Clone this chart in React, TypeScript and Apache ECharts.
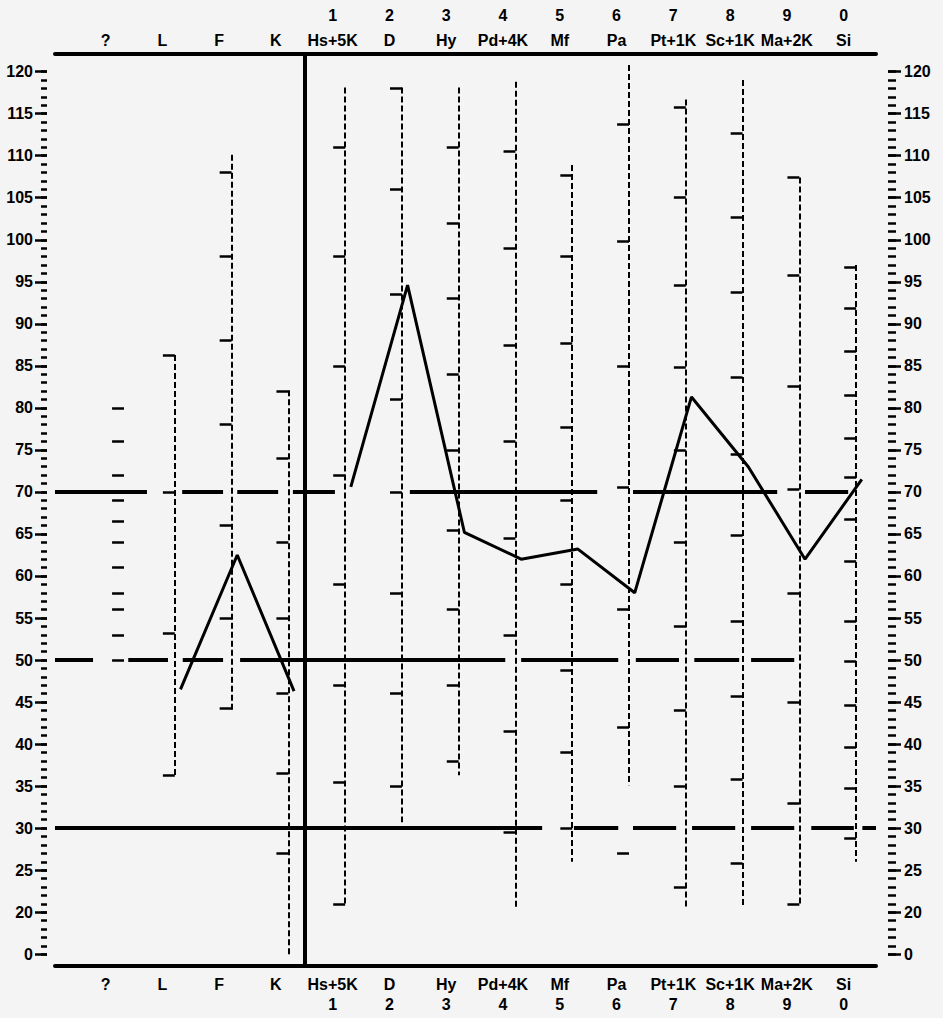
import React, { useEffect, useRef } from "react";
import * as echarts from "echarts";

// ---- categories (MMPI scales) ----
const scaleNames = ["?", "L", "F", "K", "Hs+5K", "D", "Hy", "Pd+4K", "Mf", "Pa", "Pt+1K", "Sc+1K", "Ma+2K", "Si"];
const scaleNumbers = ["", "", "", "", "1", "2", "3", "4", "5", "6", "7", "8", "9", "0"];

// ---- profile T-scores ----
const validityIdx = [1, 2, 3];
const validityProfile = [46.5, 62.5, 46.3];
const clinicalIdx = [4, 5, 6, 7, 8, 9, 10, 11, 12, 13];
const clinicalProfile = [70.6, 94.6, 65.2, 62.0, 63.2, 58.0, 81.3, 73.0, 62.0, 71.5];

// ---- raw-score scale columns (T positions) ----
const scaleTops: (number | null)[] = [null, 86.3, 110.1, 82.1, 118.1, 118.1, 118.1, 118.8, 108.9, 120.8, 116.7, 119.0, 107.4, 97.0];
const scaleBottoms: (number | null)[] = [null, 36.3, 44.0, 15.0, 20.8, 30.7, 36.3, 20.5, 26.0, 35.1, 20.5, 20.5, 21.0, 26.0];
const scaleTicks: number[][] = [
  [80, 76, 72, 69, 66.5, 64, 61, 58, 56, 53, 50],
  [86.3, 70, 53.2, 36.3],
  [108, 98, 88, 78, 66, 55, 44.3],
  [82, 74, 64, 55, 46, 36.5, 27],
  [111, 98, 85, 72, 59, 47, 35.5, 21],
  [118, 106, 93.5, 81, 70, 58, 46, 35],
  [111, 102, 93, 84, 75, 65.5, 56, 47, 38],
  [110.5, 99, 87.5, 76, 64.5, 53, 41.5, 29.5],
  [107.7, 98, 87.7, 77.7, 69, 59, 48.8, 39, 30],
  [113.7, 99.8, 85, 70.5, 56, 42, 27],
  [115.8, 105, 94.6, 84.8, 75, 64, 54, 44, 35, 23],
  [112.7, 102.7, 93.7, 83.7, 74.5, 64.9, 54.6, 45.7, 35.8, 25.8],
  [107.4, 95.8, 82.6, 70.3, 58, 45, 33, 21],
  [96.7, 91.9, 86.7, 81.5, 76.4, 71.8, 66.7, 61.8, 54.6, 49.8, 44.6, 39.6, 34.8, 28.8],
];

// ---- T reference levels and their drawn stretches (in scale-index units) ----
const tLevels = [70, 50, 30];
const tLevelSegments: number[][][] = [
  [[-1.11, 0.51], [1.13, 1.85], [2.1, 2.82], [3.08, 3.82], [5.14, 8.44], [9.07, 11.61], [12.1, 12.86]],
  [[-1.11, -0.44], [0.18, 0.88], [1.14, 1.85], [2.15, 6.82], [7.1, 8.81], [9.12, 9.88], [10.15, 10.94], [11.15, 11.91]],
  [[-1.11, 7.47], [8.03, 8.81], [9.07, 9.83], [10.11, 10.87], [11.15, 11.91], [12.21, 12.96], [13.11, 13.35]],
];

// ---- y axis ticks ----
const yTickValues = [15, 20, 25, 30, 35, 40, 45, 50, 55, 60, 65, 70, 75, 80, 85, 90, 95, 100, 105, 110, 115, 120];
const yTickLabels = ["0", "20", "25", "30", "35", "40", "45", "50", "55", "60", "65", "70", "75", "80", "85", "90", "95", "100", "105", "110", "115", "120"];
const yMinorValues: number[] = [];
for (let v = 15; v <= 120; v++) yMinorValues.push(v);

// layout constants
const X_MIN = -1.11;
const X_MAX = 13.35;
const Y_MIN = 13.6;
const Y_MAX = 122.1;
const LABEL_SHIFT = -0.22;
const PROFILE_SHIFT = 0.1;
const TICK_LEN = 0.21;
const DIVIDER_X = 3.28;

const FONT = "'Liberation Sans', Arial, Helvetica, sans-serif";

export default function App() {
  const ref = useRef<HTMLDivElement>(null);

  useEffect(() => {
    if (!ref.current) return;
    const chart = echarts.init(ref.current, undefined, { renderer: "svg" });

    const labelPositions = scaleNames.map((_, i) => i + LABEL_SHIFT);
    const idxOf = (v: number) => Math.round(v - LABEL_SHIFT);

    const scaleLineData: any[] = [];
    const tickData: any[] = [];
    scaleNames.forEach((_, i) => {
      const t = scaleTops[i];
      const b = scaleBottoms[i];
      if (t != null && b != null) scaleLineData.push({ coords: [[i, t], [i, b]] });
      scaleTicks[i].forEach((v) => {
        if (i === 0) tickData.push({ coords: [[i - TICK_LEN / 2, v], [i + TICK_LEN / 2, v]] });
        else tickData.push({ coords: [[i - TICK_LEN, v], [i, v]] });
      });
    });

    const levelData: any[] = [];
    tLevels.forEach((lv, k) => {
      tLevelSegments[k].forEach(([a, b]) => levelData.push({ coords: [[a, lv], [b, lv]] }));
    });

    const yLabelFmt = (v: number) => {
      const k = yTickValues.findIndex((t) => Math.abs(t - v) < 1e-6);
      return k >= 0 ? yTickLabels[k] : "";
    };

    const xAxisCommon = {
      type: "value",
      min: X_MIN,
      max: X_MAX,
      axisLine: { show: true, onZero: false, lineStyle: { color: "#000", width: 4 } },
      axisTick: { show: false },
      splitLine: { show: false },
    };
    const yAxisCommon = {
      type: "value",
      min: Y_MIN,
      max: Y_MAX,
      axisLine: { show: false, onZero: false },
      splitLine: { show: false },
    };
    const labelStyle = { color: "#000", fontFamily: FONT, fontWeight: "bold", fontSize: 16 };

    chart.setOption({
      animation: false,
      backgroundColor: "#f4f4f4",
      grid: { left: 55, right: 67, top: 54, bottom: 52, containLabel: false },
      xAxis: [
        {
          ...xAxisCommon,
          position: "top",
          axisLabel: {
            ...labelStyle,
            customValues: labelPositions,
            lineHeight: 25,
            margin: 1,
            formatter: (v: number) => {
              const i = idxOf(v);
              return scaleNumbers[i] ? scaleNumbers[i] + "\n" + scaleNames[i] : scaleNames[i];
            },
          },
        },
        {
          ...xAxisCommon,
          position: "bottom",
          axisLabel: {
            ...labelStyle,
            customValues: labelPositions,
            lineHeight: 20,
            margin: 8,
            formatter: (v: number) => {
              const i = idxOf(v);
              return scaleNumbers[i] ? scaleNames[i] + "\n" + scaleNumbers[i] : scaleNames[i];
            },
          },
        },
      ],
      yAxis: [
        {
          ...yAxisCommon,
          position: "left",
          offset: 8,
          axisTick: { show: true, customValues: yTickValues, length: 12, lineStyle: { color: "#000", width: 2.5 } },
          axisLabel: { ...labelStyle, customValues: yTickValues, margin: 14, formatter: yLabelFmt },
        },
        {
          ...yAxisCommon,
          position: "left",
          offset: 8,
          axisTick: { show: true, customValues: yMinorValues, length: 6, lineStyle: { color: "#000", width: 2.5 } },
          axisLabel: { show: false },
        },
        {
          ...yAxisCommon,
          position: "right",
          offset: 12,
          axisTick: { show: true, customValues: yTickValues, length: 13, lineStyle: { color: "#000", width: 2.5 } },
          axisLabel: { ...labelStyle, customValues: yTickValues, margin: 16, formatter: yLabelFmt },
        },
        {
          ...yAxisCommon,
          position: "right",
          offset: 12,
          axisTick: { show: true, customValues: yMinorValues, length: 8, lineStyle: { color: "#000", width: 2.5 } },
          axisLabel: { show: false },
        },
      ],
      series: [
        {
          type: "lines",
          coordinateSystem: "cartesian2d",
          xAxisIndex: 0,
          yAxisIndex: 0,
          silent: true,
          z: 2,
          lineStyle: { color: "#000", width: 2, type: [6, 3], opacity: 1 },
          data: scaleLineData,
        },
        {
          type: "lines",
          coordinateSystem: "cartesian2d",
          xAxisIndex: 0,
          yAxisIndex: 0,
          silent: true,
          z: 3,
          lineStyle: { color: "#000", width: 2.5, opacity: 1 },
          data: tickData,
        },
        {
          type: "lines",
          coordinateSystem: "cartesian2d",
          xAxisIndex: 0,
          yAxisIndex: 0,
          silent: true,
          z: 4,
          lineStyle: { color: "#000", width: 4, opacity: 1 },
          data: levelData,
        },
        {
          type: "lines",
          coordinateSystem: "cartesian2d",
          xAxisIndex: 0,
          yAxisIndex: 0,
          silent: true,
          z: 4,
          lineStyle: { color: "#000", width: 4, opacity: 1 },
          data: [{ coords: [[DIVIDER_X, Y_MIN], [DIVIDER_X, Y_MAX]] }],
        },
        {
          type: "line",
          xAxisIndex: 0,
          yAxisIndex: 0,
          z: 6,
          symbol: "none",
          lineStyle: { color: "#000", width: 3 },
          data: validityIdx.map((i, k) => [i + PROFILE_SHIFT, validityProfile[k]]),
        },
        {
          type: "line",
          xAxisIndex: 0,
          yAxisIndex: 0,
          z: 6,
          symbol: "none",
          lineStyle: { color: "#000", width: 3 },
          data: clinicalIdx.map((i, k) => [i + PROFILE_SHIFT, clinicalProfile[k]]),
        },
      ],
    });

    return () => chart.dispose();
  }, []);

  return (
    <div
      ref={ref}
      style={{ position: "absolute", left: 0, top: 0, width: 943, height: 1018 }}
    />
  );
}
